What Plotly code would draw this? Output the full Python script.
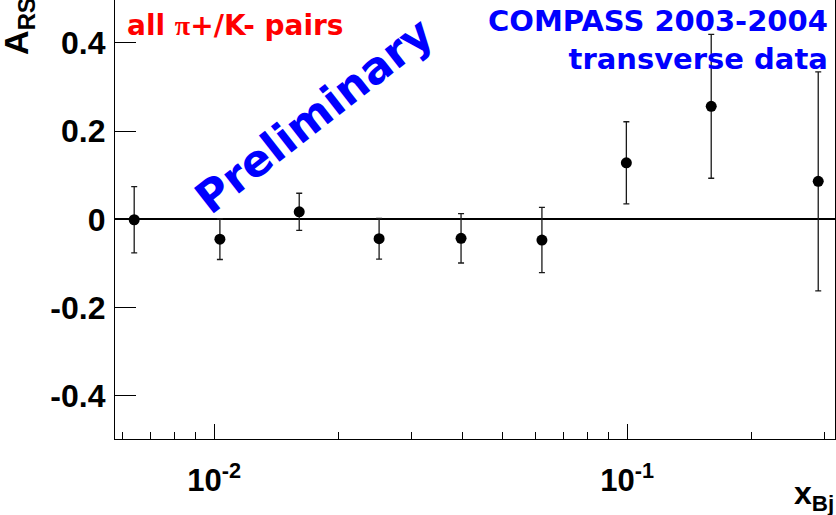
import plotly.graph_objects as go

# Asymmetry A_RS versus x_Bj, all pi+/K- pairs, COMPASS 2003-2004 transverse data
x_bj = [0.00640, 0.01032, 0.01606, 0.02507, 0.03959, 0.06214, 0.0995, 0.1597, 0.290]
a_rs = [-0.001, -0.045, 0.017, -0.044, -0.043, -0.047, 0.128, 0.256, 0.086]
a_err = [0.075, 0.046, 0.042, 0.046, 0.056, 0.074, 0.093, 0.163, 0.248]

y_ticks = [-0.4, -0.2, 0.0, 0.2, 0.4]
y_tick_text = ["-0.4", "-0.2", "0", "0.2", "0.4"]
x_major = [0.01, 0.1]
x_major_text = ["10<sup>-2</sup>", "10<sup>-1</sup>"]
x_minor = [m * 10.0 ** e for e in (-3, -2, -1) for m in range(2, 10)
           if 0.0058 < m * 10.0 ** e < 0.315]

x_range_log = [-2.2403, -0.497]
y_range = [-0.4976, 0.4967]

BOLD_SANS = "Liberation Sans"
WIDE_SANS = "DejaVu Sans"

fig = go.Figure()
fig.add_trace(go.Scatter(
    x=x_bj, y=a_rs, mode="markers",
    marker=dict(symbol="circle", size=11, color="black"),
    error_y=dict(type="data", array=a_err, visible=True,
                 color="#1a1a1a", thickness=1.3, width=3),
    showlegend=False, xaxis="x", yaxis="y",
))
# invisible trace that carries the minor-tick axis
fig.add_trace(go.Scatter(x=[x_bj[0]], y=[a_rs[0]], mode="markers",
                         marker=dict(opacity=0), showlegend=False,
                         hoverinfo="skip", xaxis="x2", yaxis="y"))

fig.update_layout(
    width=836, height=515,
    margin=dict(l=115, r=1, t=0, b=76),
    paper_bgcolor="white", plot_bgcolor="white",
    xaxis=dict(
        type="log", range=x_range_log,
        tickvals=x_major, ticktext=x_major_text,
        ticks="inside", ticklen=15, tickwidth=1.3, tickcolor="black",
        showline=True, linecolor="black", linewidth=1.3, mirror=False,
        showgrid=False, zeroline=False,
        tickfont=dict(family=BOLD_SANS, size=31, color="black", weight="bold"),
        ticklabelstandoff=14,
    ),
    xaxis2=dict(
        type="log", range=x_range_log, overlaying="x", anchor="y", side="bottom",
        tickvals=x_minor, ticks="inside", ticklen=7.5, tickwidth=1.3,
        tickcolor="black", showticklabels=False, showline=False,
        showgrid=False, zeroline=False,
    ),
    yaxis=dict(
        range=y_range,
        tickvals=y_ticks, ticktext=y_tick_text,
        ticks="inside", ticklen=21, tickwidth=1.3, tickcolor="black",
        showline=True, linecolor="black", linewidth=1.3, mirror=True,
        showgrid=False,
        zeroline=True, zerolinecolor="black", zerolinewidth=1.5,
        tickfont=dict(family=BOLD_SANS, size=32, color="black", weight="bold"),
        ticklabelstandoff=2,
    ),
)

annotations = [
    dict(text="all <span style=\"font-family:'Liberation Serif'\">π</span>+/K- pairs",
         x=0.0139, y=0.943, xanchor="left", yanchor="middle",
         font=dict(family=WIDE_SANS, size=28, color="#ff0000", weight="bold")),
    dict(text="COMPASS 2003-2004<br>transverse data", align="right",
         x=0.993, y=0.909, xanchor="right", yanchor="middle",
         font=dict(family=WIDE_SANS, size=29, color="#0000ff", weight="bold")),
    dict(text="Preliminary", textangle=-38,
         x=0.276, y=0.736, xanchor="center", yanchor="middle",
         font=dict(family=WIDE_SANS, size=44, color="#0000ff", weight="bold")),
    dict(text="A<sub>RS</sub>", textangle=-90,
         x=-0.1333, y=0.941, xanchor="center", yanchor="middle",
         font=dict(family=BOLD_SANS, size=34, color="black", weight="bold")),
    dict(text="x<sub>Bj</sub>",
         x=1.0014, y=-0.1276, xanchor="right", yanchor="middle",
         font=dict(family=BOLD_SANS, size=32, color="black", weight="bold")),
]
for a in annotations:
    a.update(xref="paper", yref="paper", showarrow=False)
fig.update_layout(annotations=annotations)

fig.write_html("out.html")
